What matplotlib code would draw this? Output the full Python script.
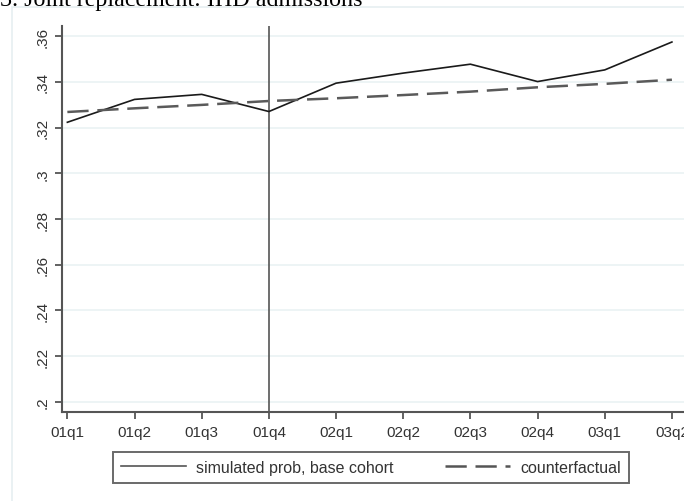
import matplotlib
matplotlib.use("Agg")
import matplotlib.pyplot as plt
from matplotlib.patches import Rectangle

quarters = ["01q1", "01q2", "01q3", "01q4", "02q1", "02q2", "02q3", "02q4", "03q1", "03q2"]
simulated = [0.3223, 0.3323, 0.3345, 0.3270, 0.3394, 0.3438, 0.3477, 0.3401, 0.3452, 0.3574]
counterfactual = [0.3268, 0.3284, 0.3299, 0.3316, 0.3328, 0.3342, 0.3357, 0.3376, 0.3391, 0.3409]
y_ticks = [0.20, 0.22, 0.24, 0.26, 0.28, 0.30, 0.32, 0.34, 0.36]
y_labels = [".2", ".22", ".24", ".26", ".28", ".3", ".32", ".34", ".36"]
policy_quarter = "01q4"
title = "3. Joint replacement: IHD admissions"

W, H = 684, 502
fig = plt.figure(figsize=(W / 100, H / 100), dpi=100)
fig.patch.set_facecolor("white")
plt.rcParams["font.family"] = ["Liberation Sans", "DejaVu Sans"]

# faint graph-region frame
fig.patches.append(Rectangle((12 / W, -0.1), 1.2, 1 - 8 / H + 0.1, transform=fig.transFigure,
                             fill=False, edgecolor="#e6eff1", linewidth=1.2))

fig.text(0.0, 1 - 6 / H, title, family="Liberation Serif", fontsize=17.3,
         va="baseline", ha="left", color="black")

ax = fig.add_axes([62 / W, 1 - 413 / H, (684 - 62) / W, (413 - 27) / H])
x = list(range(len(quarters)))

ax.plot(x, simulated, color="#1a1a1a", linewidth=1.2, label="simulated prob, base cohort", zorder=3)
ax.plot(x, counterfactual, color="#5a5a5a", linewidth=1.8, dashes=(8.5, 3.5),
        label="counterfactual", zorder=3)
ax.axvline(quarters.index(policy_quarter), color="#555555", linewidth=1.2, zorder=2)

ax.set_xlim(-0.08, 9.18)
ax.set_ylim(0.1956, 0.3644)
ax.set_xticks(x)
ax.set_xticklabels(quarters)
ax.set_yticks(y_ticks)
ax.set_yticklabels(y_labels, rotation=90, va="center")

ax.grid(axis="y", color="#eaf2f3", linewidth=1.2)
ax.set_axisbelow(True)
for side in ("top", "right"):
    ax.spines[side].set_visible(False)
for side in ("left", "bottom"):
    ax.spines[side].set_color("#555555")
    ax.spines[side].set_linewidth(1.5)
ax.tick_params(axis="both", direction="out", length=5, width=1.3, color="#555555",
               labelsize=11, labelcolor="#333333")
ax.tick_params(axis="y", pad=4)
ax.tick_params(axis="x", pad=4)

leg = fig.legend(loc="center", bbox_to_anchor=(371 / W, 1 - 468.5 / H), ncol=2,
                 frameon=True, fancybox=False, fontsize=11.5, handlelength=4.07,
                 columnspacing=3.2, borderpad=0.5, handletextpad=0.63)
leg.get_frame().set_edgecolor("#444444")
leg.get_frame().set_linewidth(1.4)
for t in leg.get_texts():
    t.set_color("#333333")
for h in leg.get_lines():
    h.set_color("#555555")

fig.savefig("out.png", dpi=100)
